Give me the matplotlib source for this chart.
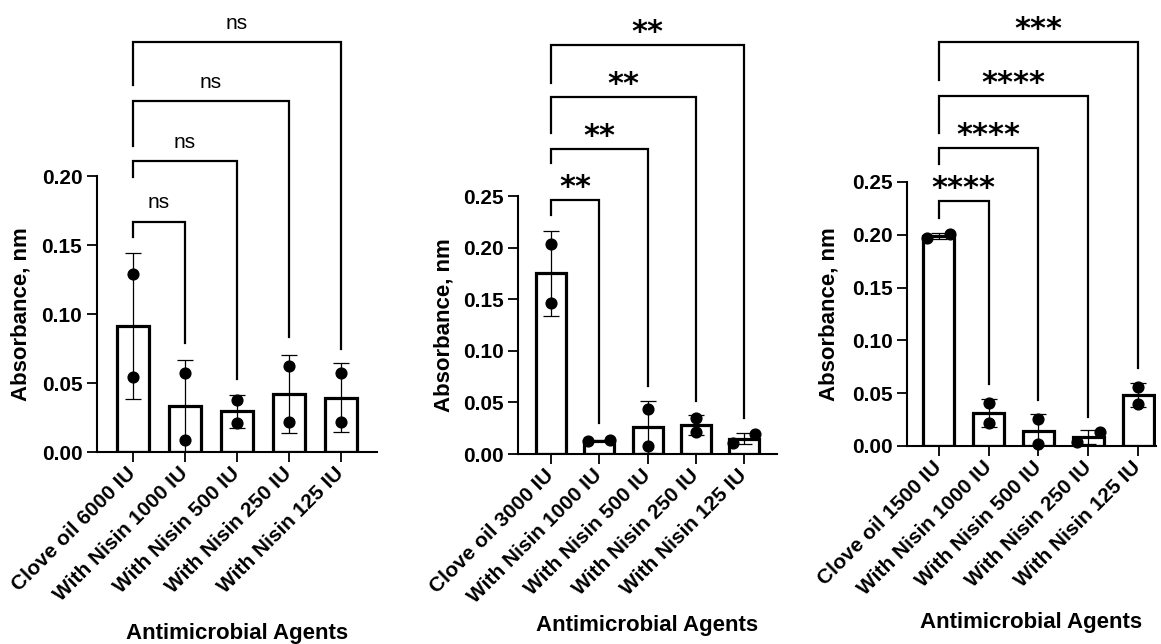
import numpy as np
import matplotlib
matplotlib.use("Agg")
import matplotlib.pyplot as plt
from matplotlib.ticker import FormatStrFormatter

plt.rcParams['font.family'] = ['Liberation Sans', 'DejaVu Sans']
plt.rcParams['font.weight'] = 'bold'

# categories for each panel
agents_1 = ["Clove oil 6000 IU", "With Nisin 1000 IU", "With Nisin 500 IU",
            "With Nisin 250 IU", "With Nisin 125 IU"]
agents_2 = ["Clove oil 3000 IU", "With Nisin 1000 IU", "With Nisin 500 IU",
            "With Nisin 250 IU", "With Nisin 125 IU"]
agents_3 = ["Clove oil 1500 IU", "With Nisin 1000 IU", "With Nisin 500 IU",
            "With Nisin 250 IU", "With Nisin 125 IU"]

# two replicates per bar (absorbance)
rep_a_1 = [0.129, 0.057, 0.038, 0.062, 0.057]
rep_b_1 = [0.054, 0.009, 0.021, 0.022, 0.022]
rep_a_2 = [0.204, 0.0125, 0.044, 0.035, 0.011]
rep_b_2 = [0.146, 0.0135, 0.008, 0.021, 0.019]
rep_a_3 = [0.1965, 0.041, 0.0256, 0.004, 0.056]
rep_b_3 = [0.201, 0.022, 0.002, 0.013, 0.040]

# significance brackets: control vs each nisin group
sig_1 = ["ns", "ns", "ns", "ns"]
sig_2 = ["**", "**", "**", "**"]
sig_3 = ["****", "****", "****", "***"]
br_top_1 = [0.167, 0.211, 0.254, 0.297]
br_left_1 = [0.156, 0.199, 0.222, 0.266]
br_right_1 = [0.079, 0.053, 0.083, 0.075]
br_top_2 = [0.246, 0.2955, 0.346, 0.396]
br_left_2 = [0.2316, 0.282, 0.311, 0.360]
br_right_2 = [0.030, 0.066, 0.051, 0.035]
br_top_3 = [0.2316, 0.282, 0.331, 0.3825]
br_left_3 = [0.216, 0.267, 0.296, 0.347]
br_right_3 = [0.059, 0.0437, 0.0275, 0.074]


def panel(ax, labels, rep_a, rep_b, ymax, xlim, tops, lefts, rights, sig, ylab_x, xlab_y):
    reps = np.array([rep_a, rep_b])
    means = reps.mean(axis=0)
    sds = reps.std(axis=0, ddof=1)
    x = np.arange(len(labels))

    ax.bar(x, means, width=0.62, color='white', edgecolor='black', linewidth=2.3, zorder=2)
    ax.errorbar(x, means, yerr=sds, fmt='none', ecolor='black', elinewidth=0.9,
                capsize=6, capthick=0.9, zorder=3)
    # points that would sit on top of each other get pushed apart
    close = np.abs(reps[0] - reps[1]) < 0.045 * ymax
    dx = np.where(close, 0.23, 0.0)
    ax.scatter(x - dx, reps.min(axis=0), s=60, color='black', zorder=4, clip_on=False)
    ax.scatter(x + dx, reps.max(axis=0), s=60, color='black', zorder=4, clip_on=False)

    for j, (t, l, r, s) in enumerate(zip(tops, lefts, rights, sig), start=1):
        ax.plot([0, 0, j, j], [l, t, t, r], color='black', lw=1.6, clip_on=False,
                solid_joinstyle='miter', zorder=5)
        if s == "ns":
            ax.annotate(s, (j / 2, t), xytext=(0, 9.5), textcoords='offset points',
                        ha='center', va='baseline', fontsize=15, fontweight='normal',
                        annotation_clip=False)
        else:
            ax.annotate(s, (j / 2, t), xytext=(0, 3), textcoords='offset points',
                        ha='center', va='baseline', fontsize=22, fontweight='bold',
                        family='DejaVu Sans', annotation_clip=False)

    ax.set_xlim(*xlim)
    ax.set_ylim(0, ymax)
    ax.set_yticks(np.arange(0, ymax + 0.001, 0.05))
    ax.yaxis.set_major_formatter(FormatStrFormatter('%.2f'))
    ax.set_xticks(x)
    ax.set_xticklabels(labels, rotation=45, ha='right', va='center', rotation_mode='anchor')
    ax.tick_params(axis='both', direction='out', length=7, width=1.3, labelsize=15)
    ax.tick_params(axis='x', pad=6)
    for side in ['top', 'right']:
        ax.spines[side].set_visible(False)
    for side in ['left', 'bottom']:
        ax.spines[side].set_linewidth(1.5)

    ax.set_ylabel("Absorbance, nm", fontsize=16, fontweight='bold', va='center')
    ax.yaxis.set_label_coords(ylab_x, 0.5)
    ax.set_xlabel("Antimicrobial Agents", fontsize=16, fontweight='bold', va='center')
    ax.xaxis.set_label_coords(0.5, xlab_y)


fig = plt.figure(figsize=(11.61, 6.44), dpi=100)
ax1 = fig.add_axes([0.0835, 0.2981, 0.2412, 0.4286])
ax2 = fig.add_axes([0.4462, 0.2950, 0.2231, 0.4006])
ax3 = fig.add_axes([0.7812, 0.3075, 0.2145, 0.4099])

panel(ax1, agents_1, rep_a_1, rep_b_1, 0.20, (-0.69, 4.69),
      br_top_1, br_left_1, br_right_1, sig_1, -0.271, -0.656)
panel(ax2, agents_2, rep_a_2, rep_b_2, 0.25, (-0.68, 4.68),
      br_top_2, br_left_2, br_right_2, sig_2, -0.286, -0.663)
panel(ax3, agents_3, rep_a_3, rep_b_3, 0.25, (-0.64, 4.36),
      br_top_3, br_left_3, br_right_3, sig_3, -0.313, -0.667)

fig.savefig("out.png", dpi=100)
